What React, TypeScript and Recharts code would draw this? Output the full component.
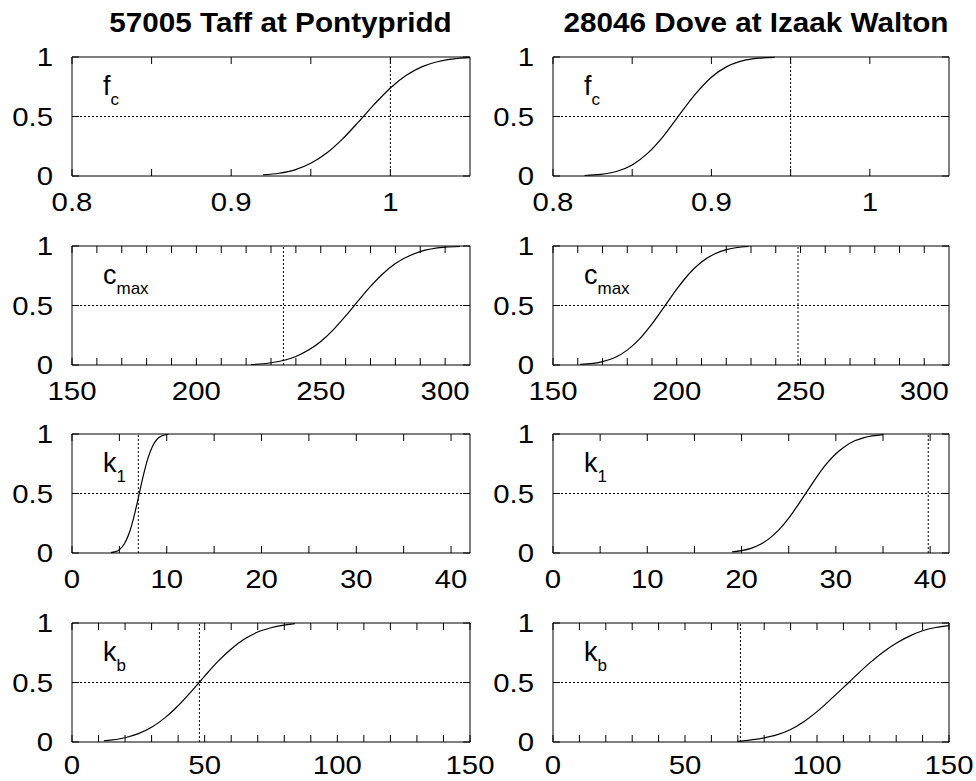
import React from 'react';
import {
  LineChart,
  Line,
  XAxis,
  YAxis,
  ReferenceLine,
  ReferenceArea,
} from 'recharts';

// station titles (left column, right column)
const stations = ['57005 Taff at Pontypridd', '28046 Dove at Izaak Walton'];

// cumulative distribution curves: { x, y }
const fcTaff = [
  { x: 0.92, y: 0.009 },
  { x: 0.93, y: 0.023 },
  { x: 0.94, y: 0.052 },
  { x: 0.95, y: 0.107 },
  { x: 0.96, y: 0.193 },
  { x: 0.97, y: 0.312 },
  { x: 0.98, y: 0.455 },
  { x: 0.99, y: 0.604 },
  { x: 1.0, y: 0.74 },
  { x: 1.01, y: 0.846 },
  { x: 1.02, y: 0.919 },
  { x: 1.03, y: 0.962 },
  { x: 1.04, y: 0.984 },
  { x: 1.05, y: 0.994 },
];
const fcDove = [
  { x: 0.82, y: 0.004 },
  { x: 0.83, y: 0.013 },
  { x: 0.84, y: 0.038 },
  { x: 0.85, y: 0.093 },
  { x: 0.86, y: 0.194 },
  { x: 0.87, y: 0.34 },
  { x: 0.88, y: 0.518 },
  { x: 0.89, y: 0.69 },
  { x: 0.9, y: 0.83 },
  { x: 0.91, y: 0.921 },
  { x: 0.92, y: 0.969 },
  { x: 0.93, y: 0.99 },
  { x: 0.94, y: 0.997 },
];
const cmaxTaff = [
  { x: 222, y: 0.004 },
  { x: 230, y: 0.019 },
  { x: 240, y: 0.072 },
  { x: 250, y: 0.197 },
  { x: 255, y: 0.295 },
  { x: 260, y: 0.412 },
  { x: 265, y: 0.538 },
  { x: 270, y: 0.66 },
  { x: 275, y: 0.767 },
  { x: 280, y: 0.852 },
  { x: 290, y: 0.953 },
  { x: 300, y: 0.99 },
  { x: 306, y: 0.996 },
];
const cmaxDove = [
  { x: 161, y: 0.005 },
  { x: 170, y: 0.029 },
  { x: 175, y: 0.063 },
  { x: 180, y: 0.125 },
  { x: 185, y: 0.219 },
  { x: 190, y: 0.345 },
  { x: 195, y: 0.491 },
  { x: 200, y: 0.638 },
  { x: 205, y: 0.767 },
  { x: 210, y: 0.865 },
  { x: 215, y: 0.931 },
  { x: 220, y: 0.969 },
  { x: 229, y: 0.996 },
];
const k1Taff = [
  { x: 4.1, y: 0.003 },
  { x: 4.5, y: 0.009 },
  { x: 5.0, y: 0.028 },
  { x: 5.5, y: 0.073 },
  { x: 6.0, y: 0.159 },
  { x: 6.5, y: 0.293 },
  { x: 7.0, y: 0.464 },
  { x: 7.5, y: 0.642 },
  { x: 8.0, y: 0.793 },
  { x: 8.5, y: 0.898 },
  { x: 9.0, y: 0.958 },
  { x: 9.5, y: 0.985 },
  { x: 10.2, y: 0.998 },
];
const k1Dove = [
  { x: 19, y: 0.009 },
  { x: 20, y: 0.02 },
  { x: 21, y: 0.039 },
  { x: 22, y: 0.073 },
  { x: 23, y: 0.125 },
  { x: 24, y: 0.198 },
  { x: 25, y: 0.293 },
  { x: 26, y: 0.405 },
  { x: 27, y: 0.524 },
  { x: 28, y: 0.642 },
  { x: 29, y: 0.748 },
  { x: 30, y: 0.834 },
  { x: 31, y: 0.898 },
  { x: 32, y: 0.943 },
  { x: 33, y: 0.97 },
  { x: 35, y: 0.995 },
];
const kbTaff = [
  { x: 12, y: 0.01 },
  { x: 20, y: 0.036 },
  { x: 25, y: 0.07 },
  { x: 30, y: 0.124 },
  { x: 35, y: 0.203 },
  { x: 40, y: 0.305 },
  { x: 45, y: 0.426 },
  { x: 50, y: 0.554 },
  { x: 55, y: 0.677 },
  { x: 60, y: 0.782 },
  { x: 65, y: 0.865 },
  { x: 70, y: 0.924 },
  { x: 75, y: 0.96 },
  { x: 84, y: 0.995 },
];
const kbDove = [
  { x: 70, y: 0.005 },
  { x: 80, y: 0.035 },
  { x: 85, y: 0.062 },
  { x: 90, y: 0.105 },
  { x: 95, y: 0.17 },
  { x: 100, y: 0.255 },
  { x: 106, y: 0.375 },
  { x: 112, y: 0.5 },
  { x: 120, y: 0.665 },
  { x: 125, y: 0.755 },
  { x: 130, y: 0.83 },
  { x: 135, y: 0.89 },
  { x: 140, y: 0.935 },
  { x: 145, y: 0.962 },
  { x: 150, y: 0.978 },
];

// dotted vertical markers (Taff, Dove)
const fcMarks = [1.0, 0.95];
const cmaxMarks = [235, 249];
const k1Marks = [7, 39.8];
const kbMarks = [48, 71];

// axes
const fcDomain = [0.8, 1.05];
const fcTicks = [0.8, 0.85, 0.9, 0.95, 1.0];
const fcLabels = [0.8, 0.9, 1];
const cmaxDomain = [150, 310];
const cmaxTicks = [150, 160, 170, 180, 190, 200, 210, 220, 230, 240, 250, 260, 270, 280, 290, 300];
const cmaxLabels = [150, 200, 250, 300];
const k1Domain = [0, 42];
const k1Ticks = [0, 5, 10, 15, 20, 25, 30, 35, 40];
const k1Labels = [0, 10, 20, 30, 40];
const kbDomain = [0, 150];
const kbTicks = [0, 10, 20, 30, 40, 50, 60, 70, 80, 90, 100, 110, 120, 130, 140, 150];
const kbLabels = [0, 50, 100, 150];
const yTicks = [0, 0.5, 1];

const PLOT_H = 119;
const TICK = 7;
const FONT = 26;
const STRETCH = 1.13;

const panels = [
  { name: 'f', sub: 'c', domain: fcDomain, ticks: fcTicks, labels: fcLabels, data: [fcTaff, fcDove], marks: fcMarks },
  { name: 'c', sub: 'max', domain: cmaxDomain, ticks: cmaxTicks, labels: cmaxLabels, data: [cmaxTaff, cmaxDove], marks: cmaxMarks },
  { name: 'k', sub: '1', domain: k1Domain, ticks: k1Ticks, labels: k1Labels, data: [k1Taff, k1Dove], marks: k1Marks },
  { name: 'k', sub: 'b', domain: kbDomain, ticks: kbTicks, labels: kbLabels, data: [kbTaff, kbDove], marks: kbMarks },
];

const rowTops = [57, 246, 434, 623];
// the last row sits at the page's foot, so its labels go a little higher
const labelDrops = [35, 35, 35, 32];
const colLefts = [0, 481];
const plotWidths = [398, 396];
const rightMargins = [30, 27];

const XTick = (props: any) => {
  const { x, y, payload, labels, plotH, drop } = props;
  const v = payload.value;
  const show = labels.some((l: number) => Math.abs(l - v) < 1e-9);
  return (
    <g>
      <line x1={x} x2={x} y1={y} y2={y - TICK} stroke="#000" />
      <line x1={x} x2={x} y1={y - plotH} y2={y - plotH + TICK} stroke="#000" />
      {show && (
        <text
          transform={`translate(${x},${y + drop}) scale(${STRETCH},1)`}
          textAnchor="middle"
          fontSize={FONT}
          fill="#000"
        >
          {String(v)}
        </text>
      )}
    </g>
  );
};

const YTick = (props: any) => {
  const { x, y, payload, plotW } = props;
  return (
    <g>
      <line x1={x} x2={x + TICK} y1={y} y2={y} stroke="#000" />
      <line x1={x + plotW} x2={x + plotW - TICK} y1={y} y2={y} stroke="#000" />
      <text
        transform={`translate(${x - 19},${y + 9.3}) scale(${STRETCH},1)`}
        textAnchor="end"
        fontSize={FONT}
        fill="#000"
      >
        {String(payload.value)}
      </text>
    </g>
  );
};

const Panel = ({ panel, col, drop }: { panel: any; col: number; drop: number }) => {
  const plotW = plotWidths[col];
  const width = 72 + plotW + rightMargins[col];
  return (
    <LineChart
      width={width}
      height={20 + PLOT_H + 50}
      data={panel.data[col]}
      margin={{ top: 20, right: rightMargins[col], bottom: 0, left: 0 }}
    >
      <XAxis
        type="number"
        dataKey="x"
        domain={panel.domain}
        ticks={panel.ticks}
        interval={0}
        allowDataOverflow
        axisLine={false}
        tickLine={false}
        tickSize={0}
        tickMargin={0}
        height={50}
        tick={(p: any) => <XTick {...p} labels={panel.labels} plotH={PLOT_H} drop={drop} />}
      />
      <YAxis
        type="number"
        domain={[0, 1]}
        ticks={yTicks}
        interval={0}
        width={72}
        axisLine={false}
        tickLine={false}
        tickSize={0}
        tickMargin={0}
        tick={(p: any) => <YTick {...p} plotW={plotW} />}
      />
      <ReferenceArea
        x1={panel.domain[0]}
        x2={panel.domain[1]}
        y1={0}
        y2={1}
        fill="none"
        stroke="#000"
        strokeWidth={1}
      />
      <ReferenceLine y={0.5} stroke="#000" strokeDasharray="2 2" />
      <ReferenceLine x={panel.marks[col]} stroke="#000" strokeDasharray="2 2" />
      <Line
        type="monotone"
        dataKey="y"
        stroke="#000"
        strokeWidth={1.2}
        dot={false}
        isAnimationActive={false}
      />
    </LineChart>
  );
};

export default function App() {
  return (
    <div
      style={{
        position: 'fixed',
        left: 0,
        top: 0,
        width: 976,
        height: 781,
        background: '#fff',
        overflow: 'hidden',
        fontFamily: '"Liberation Sans", Arial, sans-serif',
      }}
    >
      {panels.map((panel, row) =>
        [0, 1].map((col) => (
          <div
            key={`${row}-${col}`}
            style={{ position: 'absolute', left: colLefts[col], top: rowTops[row] - 20 }}
          >
            <Panel panel={panel} col={col} drop={labelDrops[row]} />
          </div>
        ))
      )}
      <svg
        width={976}
        height={781}
        style={{ position: 'absolute', left: 0, top: 0, pointerEvents: 'none' }}
      >
        {stations.map((s, col) => (
          <text
            key={s}
            transform={`translate(${col === 0 ? 280.5 : 756},32) scale(1.06,1)`}
            textAnchor="middle"
            fontSize={28}
            fontWeight="bold"
            fill="#000"
          >
            {s}
          </text>
        ))}
        {panels.map((panel, row) =>
          [0, 1].map((col) => (
            <text
              key={`l-${row}-${col}`}
              x={colLefts[col] + 72 + 31}
              y={rowTops[row] + 38}
              fontSize={27}
              fill="#000"
            >
              {panel.name}
              <tspan fontSize={17} dy={10}>
                {panel.sub}
              </tspan>
            </text>
          ))
        )}
      </svg>
    </div>
  );
}
